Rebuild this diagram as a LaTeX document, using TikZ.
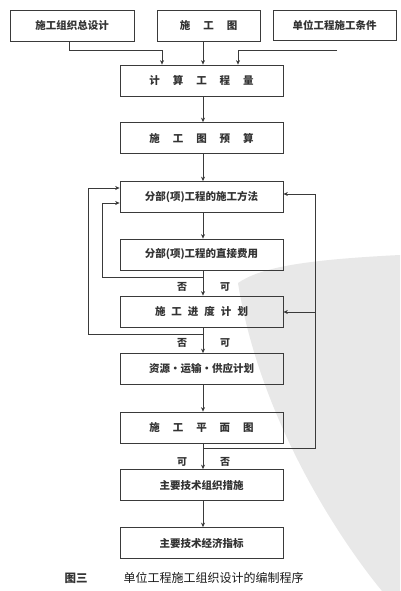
\documentclass[tikz,border=0pt]{standalone}
\usepackage{fontspec}
\newfontfamily\cjk{Noto Sans CJK SC}
\usetikzlibrary{arrows.meta}
\definecolor{inkc}{HTML}{3A3A3A}
\definecolor{wmark}{HTML}{E8E8E8}
\newcommand\gapA{\hspace{13pt}}
\newcommand\gapB{\hspace{6pt}}
\begin{document}
\begin{tikzpicture}[x=1pt,y=-1pt,
  box/.style={draw=inkc,line width=0.8pt,inner sep=0pt,font=\cjk\bfseries\fontsize{10.5}{12}\selectfont,text=black!80},
  mainbox/.style={box,minimum width=163pt,minimum height=31pt},
  conn/.style={draw=inkc,line width=0.6pt},
  arr/.style={conn,-{Stealth[length=4.5pt,width=4pt]}},
  lbl/.style={font=\cjk\bfseries\fontsize{10}{12}\selectfont,text=black!80,inner sep=0pt}]
\useasboundingbox (0,0) rectangle (400,591);
\fill[white] (0,0) rectangle (400,591);
% watermark
\fill[wmark] (238,283) .. controls (260,268) and (300,260) .. (400,255) -- (400,591) -- (382,591) .. controls (340,540) and (260,420) .. (238,283) -- cycle;
% top boxes
\node[box,minimum width=124pt,minimum height=31pt] (b1) at (72,25.5) {施工组织总设计};
\node[box,minimum width=103pt,minimum height=31pt] (b2) at (208.5,25.5) {施\gapA 工\gapA 图};
\node[box,minimum width=123pt,minimum height=30pt] (b3) at (334.5,25) {单位工程施工条件};
% main column
\node[mainbox] (calc) at (201.5,80.5) {计\gapA 算\gapA 工\gapA 程\gapA 量};
\node[mainbox] (ys) at (201.5,138) {施\gapA 工\gapA 图\gapA 预\gapA 算};
\node[mainbox] (ff) at (201.5,197) {分部(项)工程的施工方法};
\node[mainbox] (fy) at (201.5,254.5) {分部(项)工程的直接费用};
\node[mainbox] (jd) at (201.5,311.5) {施\gapB 工\gapB 进\gapB 度\gapB 计\gapB 划};
\node[mainbox] (zy) at (201.5,369) {资源・运输・供应计划};
\node[mainbox] (pm) at (201.5,427.5) {施\gapA 工\gapA 平\gapA 面\gapA 图};
\node[mainbox] (cs) at (201.5,485) {主要技术组织措施};
\node[mainbox] (zb) at (201.5,543) {主要技术经济指标};
% top connectors
\coordinate (r0) at (337,50);
\draw[arr] (b1.south -| 69,0) |- (162,50) -- (calc.north -| 162,0);
\draw[arr] (b2.south -| 203,0) -- (calc.north -| 203,0);
\draw[arr] (r0) -| (calc.north -| 238,0);
% main flow
\draw[arr] (calc.south -| 203,0) -- (ys.north -| 203,0);
\draw[arr] (ys.south -| 203,0) -- (ff.north -| 203,0);
\draw[arr] (ff.south -| 203,0) -- (fy.north -| 203,0);
\draw[arr] (fy.south -| 203,0) -- (jd.north -| 203,0);
\draw[arr] (jd.south -| 203,0) -- (zy.north -| 203,0);
\draw[arr] (zy.south -| 203,0) -- (pm.north -| 203,0);
\draw[arr] (pm.south -| 203,0) -- (cs.north -| 203,0);
\draw[arr] (cs.south -| 203,0) -- (zb.north -| 203,0);
% loops
\coordinate (l1) at (203,277);
\coordinate (l2) at (203,334);
\coordinate (l3) at (203,448);
\draw[arr] (l1) -| (102,203) -- (ff.west |- 0,203);
\draw[arr] (l2) -| (88,188) -- (ff.west |- 0,188);
\draw[arr] (l3) -| (315,194) -- (ff.east |- 0,194);
\draw[arr] (315,312) -- (jd.east |- 0,312);
% labels
\node[lbl] (n1) at (182,287) {否};
\node[lbl] (y1) at (225,287) {可};
\node[lbl] (n2) at (182,343) {否};
\node[lbl] (y2) at (225,343) {可};
\node[lbl] (y3) at (182,462) {可};
\node[lbl] (n3) at (225,462) {否};
% caption
\node[lbl,font=\cjk\bfseries\fontsize{11.5}{13}\selectfont] (fig) at (76,578) {图三};
\node[lbl,font=\cjk\fontsize{12}{14}\selectfont,text=black!90] (cap) at (213.5,578) {单位工程施工组织设计的编制程序};
\end{tikzpicture}
\end{document}
